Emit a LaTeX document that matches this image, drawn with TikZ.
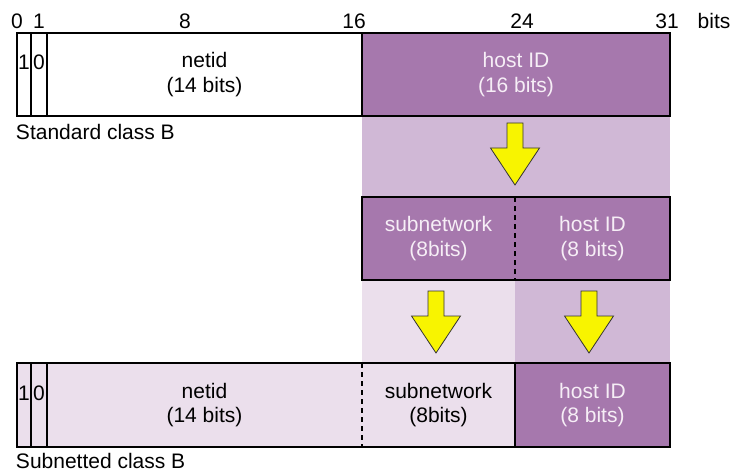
\documentclass[tikz,border=0pt]{standalone}
\usepackage{fontspec}
\setmainfont{Liberation Sans}
\definecolor{pmid}{HTML}{A678AD}
\definecolor{plight}{HTML}{D0B8D6}
\definecolor{plighter}{HTML}{EBDFEC}
\definecolor{ayellow}{HTML}{F8F400}
\definecolor{ltext}{HTML}{F6EEF6}
\tikzset{
  txt/.style={font=\fontsize{21}{24.5}\selectfont, align=center, inner sep=0pt, outer sep=0pt},
  cell/.style={draw=black, line width=2.8pt, inner sep=0pt, outer sep=0pt, anchor=north west},
  region/.style={inner sep=0pt, outer sep=0pt, anchor=north west},
  divider/.style={line width=2.8pt, dash pattern=on 5pt off 4pt},
  yarrow/.pic={\draw[fill=ayellow, draw=black!80, line width=0.8pt, line join=miter]
     (-8,0) -- (8,0) -- (8,25) -- (24.5,25) -- (0,62) -- (-24.5,25) -- (-8,25) -- cycle;}
}
\begin{document}
\begin{tikzpicture}[x=1pt,y=-1pt]
\useasboundingbox (0,0) rectangle (733,473);
% bit labels
\node[txt] (b0) at (17,21) {0};
\node[txt] (b1) at (39,21) {1};
\node[txt] (b8) at (185,21) {8};
\node[txt] (b16) at (354,21) {16};
\node[txt] (b24) at (522,21) {24};
\node[txt] (b31) at (667,21) {31};
\node[txt] (bbits) at (714,21) {bits};
% background regions
\node[region, fill=plight, minimum width=308, minimum height=81] (reg1) at (362,116) {};
\node[region, fill=plighter, minimum width=153, minimum height=83] (reg2) at (362,280) {};
\node[region, fill=plight, minimum width=155, minimum height=83] (reg3) at (515,280) {};
% top (standard class B)
\node[cell, fill=white, minimum width=14, minimum height=83] (tc1) at (17,33) {};
\node[cell, fill=white, minimum width=16, minimum height=83] (tc0) at (31,33) {};
\node[cell, fill=white, minimum width=315, minimum height=83] (tnet) at (47,33) {};
\node[cell, fill=pmid, minimum width=308, minimum height=83] (thost) at (362,33) {};
\node[txt] (t1) at (24,62) {1};
\node[txt] (t0) at (39,62) {0};
\node[txt] at (tnet.center) {netid\\(14 bits)};
\node[txt, text=ltext] at (thost.center) {host ID\\(16 bits)};
\node[txt, anchor=west] (lstd) at (16,132) {Standard class B};
% middle
\node[region, fill=pmid, minimum width=153, minimum height=83] (msub) at (362,197) {};
\node[region, fill=pmid, minimum width=155, minimum height=83] (mhost) at (515,197) {};
\draw[line width=2.8pt] (msub.north west) rectangle (mhost.south east);
\draw[divider] (msub.north east) -- (msub.south east);
\node[txt, text=ltext] at (msub.center) {subnetwork\\(8bits)};
\node[txt, text=ltext] at (mhost.center) {host ID\\(8 bits)};
% bottom (subnetted class B)
\node[region, fill=plighter, minimum width=498, minimum height=84] (bbg) at (17,363) {};
\node[cell, fill=plighter, minimum width=14, minimum height=84] (bc1) at (17,363) {};
\node[cell, fill=plighter, minimum width=16, minimum height=84] (bc0) at (31,363) {};
\node[region, minimum width=315, minimum height=84] (bnet) at (47,363) {};
\node[region, minimum width=153, minimum height=84] (bsub) at (362,363) {};
\node[cell, fill=pmid, minimum width=155, minimum height=84] (bhost) at (515,363) {};
\draw[line width=2.8pt] (bc1.north west) rectangle (bhost.south east);
\draw[divider] (bsub.north west) -- (bsub.south west);
\node[txt] (u1) at (24,393) {1};
\node[txt] (u0) at (39,393) {0};
\node[txt] at (bnet.center) {netid\\(14 bits)};
\node[txt] at (bsub.center) {subnetwork\\(8bits)};
\node[txt, text=ltext] at (bhost.center) {host ID\\(8 bits)};
\node[txt, anchor=west] (lsub) at (16,461) {Subnetted class B};
% arrows
\pic at (515,123) {yarrow};
\pic at (436,291) {yarrow};
\pic at (589,291) {yarrow};
\end{tikzpicture}
\end{document}
